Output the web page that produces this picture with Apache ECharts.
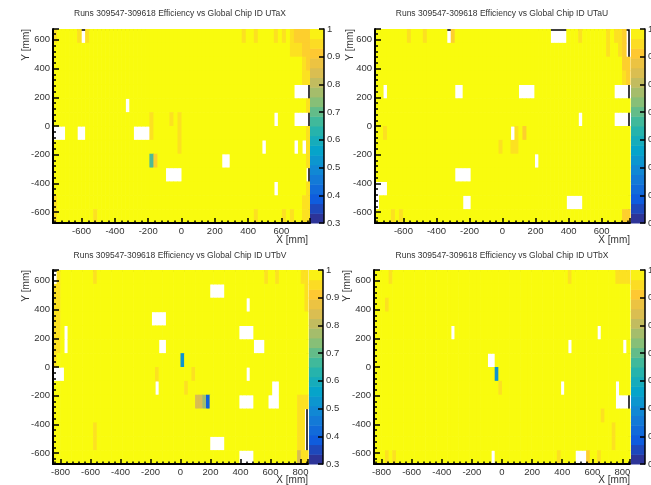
<!DOCTYPE html>
<html>
<head>
<meta charset="utf-8">
<title>UT chip efficiency</title>
<script src="https://cdn.jsdelivr.net/npm/echarts@6.0.0/dist/echarts.min.js"></script>
<style>
    html, body { margin: 0; padding: 0; background: #fff; }
    #chart { width: 651px; height: 485px; }
</style>
</head>
<body>
<div id="chart"></div>
<script>
// efficiency per chip, one string per row, from the top row (y = +675) down
// y = 1, o = light orange, O = orange, T = tan, G = olive, g = green, c = cyan, B = blue, . = no entry
const levels = { y: 1.0, o: 0.955, O: 0.925, T: 0.84, G: 0.77, g: 0.68, c: 0.52, B: 0.4 };

const utaxRows = [
    "oyyyyyo. oyyyyyyy yyyyyyyy yyyyyyyy yyyyyyyy yyyyyyyo yyoyyyyo yoyoOOOO",
    "yyyyyyyy yyyyyyyy yyyyyyyy yyyyyyyy yyyyyyyy yyyyyyyy yyyyyyyy yyyoooOO",
    "yyyyyyyy yyyyyyyy yyyyyyyy yyyyyyyy yyyyyyyy yyyyyyyy yyyyyyyy yyyyyyoO",
    "yyyyyyyy yyyyyyyy yyyyyyyy yyyyyyyy yyyyyyyy yyyyyyyy yyyyyyyy yyyyyyoo",
    "yyyyyyyy yyyyyyyy yyyyyyyy yyyyyyyy yyyyyyyy yyyyyyyy yyyyyyyy yyyy....",
    "yyyyyyyy yyyyyyyy yy.yyyyy yyyyyyyy yyyyyyyy yyyyyyyy yyyyyyyy yyyyyyyo",
    "yyyyyyyy yyyyyyyy yyyyyyyy oyyyyoyo yyyyyyyy yyyyyyyy yyyyyyy. yyyy....",
    "...yyy.. yyyyyyyy yyyy.... oyyyyyyo yyyyyyyy yyyyyyyy yyyyyyyy yyyyyyyo",
    "yyyyyyyy yyyyyyyy yyyyyyyy yyyyyyyo yyyyyyyy yyyyyyyy yyyy.yyy yyyy.y.o",
    "yyyyyyyy yyyyyyyy yyyyyyyy gOyyyyyy yyyyyyyy yy..yyyy yyyyyyyy yyyyyyyo",
    "yyyyyyyy yyyyyyyy yyyyyyyy yyyy.... yyyyyyyy yyyyyyyy yyyyyyyy yyyyyyy.",
    "yyyyyyyy yyyyyyyy yyyyyyyy yyyyyyyy yyyyyyyy yyyyyyyy yyyyyyy. yyyyyyyo",
    "oyyyyyyy yyyyyyyy yyyyyyyy yyyyyyyy yyyyyyyy yyyyyyyy yyyyyyyy yyyyyyoo",
    "oyyyyyyy yyoyyyyy yyyyyyyy yyyyyyyy yyyyyyyy yyyyyyyy yyoyyyyy yoyoyyoo"
];

const utauRows = [
    "yyyyyyyy oyyyoyyy yy.Oyyyy yyyyyyyy yyyyyyyy yyyy.... yyyoyyyy yyoyooO.",
    "yyyyyyyy yyyyyyyy yyyyyyyy yyyyyyyy yyyyyyyy yyyyyyyy yyyyyyyy yyoyyoO.",
    "yyyyyyyy yyyyyyyy yyyyyyyy yyyyyyyy yyyyyyyy yyyyyyyy yyyyyyyy yyyyyyOO",
    "yyyyyyyy yyyyyyyy yyyyyyyy yyyyyyyy yyyyyyyy yyyyyyyy yyyyyyyy yyyyyyoO",
    "yy.yyyyy yyyyyyyy yyyy..yy yyyyyyyy yyyy.... yyyyyyyy yyyyyyyy yyyy....",
    "yyyyyyyy yyyyyyyy yyyyyyyy yyyyyyyy yyyyyyyy yyyyyyyy yyyyyyyy yyyyyyyy",
    "yyyyyyyy yyyyyyyy yyyyyyyy yyyyyyyy yyyyyyyy yyyyyyyy yyy.yyyy yyyy....",
    "yyoyyyyy yyyyyyyy yyyyyyyy yyyyyyyy yy.oyOyy yyyyyyyy yyyyyyyy yyyyyyyy",
    "yyyyyyyy yyyyyyyy yyyyyyyy yyyyyyyo yyooyyyy yyyyyyyy yyyyyyyy yyyyyyyy",
    "yyyyyyyy yyyyyyyy yyyyyyyy yyyyyyyy yyyyyyyy .yyyyyyy yyyyyyyy yyyyyyyy",
    "yyyyyyyy yyyyyyyy yyyy.... yyyyyyyy yyyyyyyy yyyyyyyy yyyyyyyy yyyyyyyy",
    "...yyyyy yyyyyyyy yyyyyyyy yyyyyyyy yyyyyyyy yyyyyyyy yyyyyyyy yyyyyyyy",
    ".yyyyyyy yyyyyyyy yyyyyy.. yyyyyyyy yyyyyyyy yyyyyyyy ....yyyy yyyyyyyy",
    "yyyyoyoy yyyyyyyy yyyyyyyy yyyyyyyy yyyyyyyy yyyyyyyy yyyyyyyy yyyyyyOO"
];

const utbvRows = [
    ".oyyyyyy yyyoyyyy yyyyyyyy yyyyyyyy yyyyyyyy yyyyyyyy yyyyyyyy yyoyyoyy yyyyoo",
    "ooyyyyyy yyyyyyyy yyyyyyyy yyyyyyyy yyyyyyyy yyy....y yyyyyyyy yyyyyyyy yyyyyo",
    "ooyyyyyy yyyyyyyy yyyyyyyy yyyyyyyy yyyyyyyy yyyyyyyy yyyyy.yy yyyyyyyy yyyyyo",
    "ooyyyyyy yyyyyyyy yyyyyyyy yyy....y yyyyyyyy yyyyyyyy yyyyyyyy yyyyyyyy yyyyyy",
    "ooy.yyyy yyyyyyyy yyyyyyyy yyyyyyyy yyyyyyyy yyyyyyyy yyy....y yyyyyyyy yyyyyy",
    "ooy.yyyy yyyyyyyy yyyyyyyy yyyyy..y yyyyyyyy yyyyyyyy yyyyyyy. ..yyyyyy yyyyyy",
    "oyyyyyyy yyyyyyyy yyyyyyyy yyyyyyyy yyycyyyy yyyyyyyy yyyyyyyy yyyyyyyy yyyyyy",
    "...yyyyy yyyyyyyy yyyyyyyy yyyyoyyy yyyyyyoy yyyyyyyy yyyyy.yy yyyyyyyy yyyyyy",
    "yyyyyyyy yyyyyyyy yyyyyyyy yyyy.yyy yyyyoyyy yyyyyyyy yyyyyyyy yyyy..yy yyyyyy",
    "yyyyyyyy yyyyyyyy yyyyyyyy yyyyyyyy yyyyyyyT TGByyyyy yyy....y yyy...yy yyyooo",
    "yyyyyyyy yyyyyyyy yyyyyyyy yyyyyyyy yyyyyyyy yyyyyyyy yyyyyyyy yyyyyyyy yyyoo.",
    "yyyyyyyy yyyoyyyy yyyyyyyy yyyyyyyy yyyyyyyy yyyyyyyy yyyyyyyy yyyyyyyy yyyoo.",
    "yyyyyyyy yyyoyyyy yyyyyyyy yyyyyyyy yyyyyyyy yyy....y yyyyyyyy yyyyyyyy yyyoo.",
    "yyyyyyyy yyyyyyyy yyyyyyyy yyyyyyyy yyyyyyyy yyyyyyyy yyy....y yyyyyyyy yyyToo"
];

const utbxRows = [
    "yyyyoyyy yyyyyyyy yyyyyyyy yyyyyyyy yyyyyyyy yyyyyyyy yyyyyoyy yyyyyyyy yyoooo",
    "yyyyyyyy yyyyyyyy yyyyyyyy yyyyyyyy yyyyyyyy yyyyyyyy yyyyyyyy yyyyyyyy yyyyyy",
    "yyyoyyyy yyyyyyyy yyyyyyyy yyyyyyyy yyyyyyyy yyyyyyyy yyyyyyyy yyyyyyyy yyyyyy",
    "yyyyyyyy yyyyyyyy yyyyyyyy yyyyyyyy yyyyyyyy yyyyyyyy yyyyyyyy yyyyyyyy yyyyyy",
    "yyyyyyyy yyyyyyyy yyyyy.yy yyyyyyyy yyyyyyyy yyyyyyyy yyyyyyyy yyyyy.yy yyyyyy",
    "yyyyyyyy yyyyyyyy yyyyyyyy yyyyyyyy yyyyyyyy yyyyyyyy yyyyy.yy yyyyyyyy yyyy.y",
    "yyyyyyyy yyyyyyyy yyyyyyyy yyyyyyy. .yyyyyyy yyyyyyyy yyyyyyyy yyyyyyyy yyyyyy",
    "yyyyyyyy yyyyyyyy yyyyyyyy yyyyyyyy ycyyyyyy yyyyyyyy yyyyyyyy yyyyyyyy yyyyyy",
    "yyyyyyyy yyyyyyyy yyyyyyyy yyyyyyyy yyoyyyyy yyyyyyyy yyy.yyyy yyyyyyyy yy.yyy",
    "yyyyyyyy yyyyyyyy yyyyyyyy yyyyyyyy yyyyyyyy yyyyyyyy yyyyyyyy yyyyyyyy yy....",
    "yyyyyyyy yyyyyyyy yyyyyyyy yyyyyyyy yyyyyyyy yyyyyyyy yyyyyyyy yyyyyyoy yyyyyy",
    "yyyyyyyy yyyyyyyy yyyyyyyy yyyyyyyy yyyyyyyy yyyyyyyy yyyyyyyy yyyyyyyy yoyyyy",
    "yyyyyyyy yyyyyyyy yyyyyyyy yyyyyyyy yyyyyyyy yyyyyyyy yyyyyyyy yyyyyyyy yoyyyy",
    "yyyoyoyy yyyyyyyy yyyyyyyy yyyyyyyy .yyyyyyy yyyyyyyy yyoyyyy. ..Oyyoyy yyyyyy"
];

// palette (ROOT kBird) and the 20 contour bands of the colour bar
const birdColors = ['#352a87', '#0f5cdd', '#1481d6', '#06a4ca', '#2eb7a4', '#87bf77', '#d1bb59', '#fec832', '#f9fb0e'];
const paletteEdges = [0.3, 0.335, 0.37, 0.405, 0.44, 0.475, 0.51, 0.545, 0.58, 0.615, 0.65,
                      0.685, 0.72, 0.755, 0.79, 0.825, 0.86, 0.895, 0.93, 0.965, 1.0];

const titles = ['UTaX', 'UTaU', 'UTbV', 'UTbX'];
const runLabel = 'Runs 309547-309618 Efficiency vs Global Chip ID ';

// layout of the four pads (pixels)
const panels = [
    { rows: utaxRows, xHalf: 772, plot: [53, 29, 257, 194], bar: 310, cx: 180, ty: 14, yName: [26, 29], xName: [308, 240] },
    { rows: utauRows, xHalf: 772, plot: [375, 29, 255, 194], bar: 631, cx: 502, ty: 14, yName: [350, 29], xName: [630, 240] },
    { rows: utbvRows, xHalf: 850, plot: [53, 270, 255, 194], bar: 309, cx: 180, ty: 256, yName: [26, 270], xName: [308, 480] },
    { rows: utbxRows, xHalf: 850, plot: [374, 270, 256, 194], bar: 631, cx: 502, ty: 256, yName: [347, 270], xName: [630, 480] }
];
const yHalf = 675;
const font = '"Liberation Sans", Arial, sans-serif';

function cellsOf(rows, xHalf) {
    const out = [];
    rows.forEach((row, i) => {
        const s = row.replace(/ /g, '');
        const w = 2 * xHalf / s.length;
        const h = 2 * yHalf / rows.length;
        for (let j = 0; j < s.length; j++) {
            const ch = s[j];
            if (ch === '.') continue;
            out.push([-xHalf + (j + 0.5) * w, yHalf - (i + 0.5) * h, levels[ch], w, h]);
        }
    });
    return out;
}

const bandData = [];
for (let i = 0; i < paletteEdges.length - 1; i++) {
    bandData.push([paletteEdges[i], paletteEdges[i + 1], (paletteEdges[i] + paletteEdges[i + 1]) / 2]);
}

function renderCell(params, api) {
    const w = api.value(3), h = api.value(4);
    const p = api.coord([api.value(0) - w / 2, api.value(1) + h / 2]);
    const s = api.size([w, h]);
    return {
        type: 'rect',
        shape: { x: p[0], y: p[1], width: s[0] + 0.6, height: s[1] + 0.6 },
        style: { fill: api.visual('color') }
    };
}

function renderBand(params, api) {
    const p0 = api.coord([0, api.value(1)]);
    const p1 = api.coord([1, api.value(0)]);
    return {
        type: 'rect',
        shape: { x: p0[0], y: p0[1], width: p1[0] - p0[0], height: p1[1] - p0[1] + 0.5 },
        style: { fill: api.visual('color') }
    };
}

const grids = [], xAxes = [], yAxes = [], series = [], graphics = [];
const tickStyle = { color: '#000', width: 1.5 };

panels.forEach((pn, k) => {
    const [l, t, w, h] = pn.plot;
    grids.push({ left: l, top: t, width: w, height: h, outerBoundsMode: 'none' });
    xAxes.push({
        type: 'value', gridIndex: 2 * k, min: -pn.xHalf, max: pn.xHalf, splitNumber: 8, z: 5,
        axisLine: { show: true, onZero: false, lineStyle: { color: '#000', width: 2 } },
        axisTick: { show: true, inside: true, length: 5, lineStyle: tickStyle },
        minorTick: { show: true, splitNumber: 5, length: 2.5, lineStyle: tickStyle },
        axisLabel: { margin: 3, fontSize: 9.5, color: '#333', fontFamily: font, showMinLabel: false, showMaxLabel: false },
        splitLine: { show: false }
    });
    yAxes.push({
        type: 'value', gridIndex: 2 * k, min: -yHalf, max: yHalf, splitNumber: 7, z: 5,
        axisLine: { show: true, onZero: false, lineStyle: { color: '#000', width: 2 } },
        axisTick: { show: true, inside: true, length: 6, lineStyle: tickStyle },
        minorTick: { show: true, splitNumber: 5, length: 3, lineStyle: tickStyle },
        axisLabel: { margin: 3, fontSize: 9.5, color: '#333', fontFamily: font, showMinLabel: false, showMaxLabel: false },
        splitLine: { show: false }
    });
    series.push({
        type: 'custom', name: titles[k], xAxisIndex: 2 * k, yAxisIndex: 2 * k, z: 2,
        renderItem: renderCell, data: cellsOf(pn.rows, pn.xHalf), encode: { x: 0, y: 1 }
    });

    // colour bar
    grids.push({ left: pn.bar, top: t, width: 14, height: h, outerBoundsMode: 'none' });
    xAxes.push({ type: 'value', gridIndex: 2 * k + 1, min: 0, max: 1, show: false });
    yAxes.push({
        type: 'value', gridIndex: 2 * k + 1, position: 'right', min: 0.3, max: 1, interval: 0.1, z: 5,
        axisLine: { show: true, onZero: false, lineStyle: { color: '#000', width: 1.5 } },
        axisTick: { show: true, inside: true, length: 5, lineStyle: tickStyle },
        axisLabel: { margin: 3, fontSize: 9.5, color: '#333', fontFamily: font },
        splitLine: { show: false }
    });
    series.push({
        type: 'custom', xAxisIndex: 2 * k + 1, yAxisIndex: 2 * k + 1, z: 2,
        renderItem: renderBand, data: bandData, encode: { x: 0, y: 1 }
    });

    // pad frame (top and right), hidden under the filled cells
    graphics.push({
        type: 'polyline', z: 0,
        shape: { points: [[l, t + 1], [l + w - 1, t + 1], [l + w - 1, t + h]] },
        style: { stroke: '#000', lineWidth: 1.5, fill: null }
    });

    graphics.push({
        type: 'text', x: pn.cx, y: pn.ty,
        style: { text: runLabel + titles[k], font: '8.5px ' + font, fill: '#333',
                 textAlign: 'center', textVerticalAlign: 'middle' }
    });
    graphics.push({
        type: 'text', x: pn.yName[0], y: pn.yName[1], rotation: Math.PI / 2,
        style: { text: 'Y [mm]', font: '10px ' + font, fill: '#333',
                 textAlign: 'right', textVerticalAlign: 'middle' }
    });
    graphics.push({
        type: 'text', x: pn.xName[0], y: pn.xName[1],
        style: { text: 'X [mm]', font: '10px ' + font, fill: '#333',
                 textAlign: 'right', textVerticalAlign: 'middle' }
    });
});

const chart = echarts.init(document.getElementById('chart'));
chart.setOption({
    animation: false,
    backgroundColor: '#fff',
    grid: grids,
    xAxis: xAxes,
    yAxis: yAxes,
    visualMap: {
        type: 'continuous', show: false, min: 0.3, max: 1, dimension: 2,
        seriesIndex: [0, 1, 2, 3, 4, 5, 6, 7],
        inRange: { color: birdColors }
    },
    graphic: graphics,
    series: series
});
</script>
</body>
</html>
